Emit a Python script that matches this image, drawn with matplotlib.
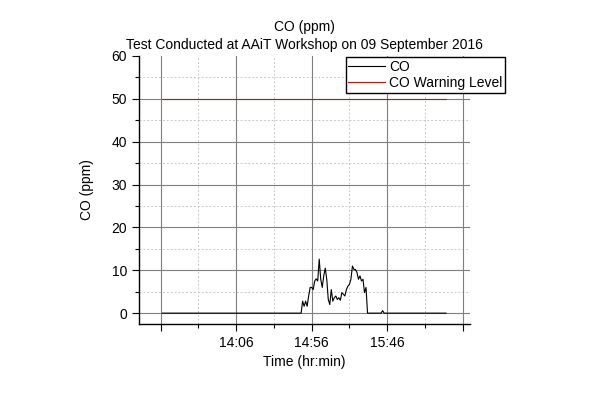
import matplotlib
matplotlib.use('Agg')
import matplotlib.pyplot as plt
from matplotlib.ticker import MultipleLocator, FixedLocator

plt.rcParams['font.family'] = ['Liberation Sans', 'DejaVu Sans']

# CO readings (time hh:mm, ppm)
times = ['13:17', '14:49', '14:50', '14:51', '14:52', '14:53', '14:54', '14:55',
         '14:56', '14:57', '14:58', '14:59', '15:00', '15:01', '15:02', '15:03',
         '15:04', '15:05', '15:06', '15:07', '15:08', '15:09', '15:10', '15:11',
         '15:12', '15:13', '15:14', '15:15', '15:16', '15:17', '15:18', '15:19',
         '15:20', '15:21', '15:22', '15:23', '15:24', '15:25', '15:26', '15:27',
         '15:28', '15:29', '15:30', '15:31', '15:32', '15:33', '15:42', '15:43',
         '15:44', '16:25']
co = [0, 0, 2.8, 1.6, 2.8, 1.6, 4.0, 6.0,
      6.0, 5.5, 7.5, 8.0, 7.5, 12.6, 7.9, 6.0,
      8.7, 10.5, 7.9, 3.2, 2.0, 5.5, 2.8, 3.6,
      4.0, 3.2, 3.6, 3.0, 4.8, 4.4, 4.0, 5.5,
      6.3, 6.7, 7.9, 11.0, 10.2, 10.2, 9.5, 7.9,
      8.7, 7.5, 7.9, 4.8, 6.0, 0, 0, 0.6,
      0, 0]
warn_times = ['13:17', '16:25']
warn_level = [50, 50]

x_ticks = ['13:16', '14:06', '14:56', '15:46', '16:36']
x_labels = ['', '14:06', '14:56', '15:46', '']
y_ticks = [0, 10, 20, 30, 40, 50, 60]
y_minor = [5, 15, 25, 35, 45, 55]


def to_min(t):
    h, m = t.split(':')
    return int(h) * 60 + int(m)


fig = plt.figure(figsize=(6.15, 3.94), dpi=100)
ax = fig.add_axes([0.226, 0.178, 0.538, 0.680])

ax.plot([to_min(t) for t in times], co, color='black', lw=0.8, label='CO')
ax.plot([to_min(t) for t in warn_times], warn_level, color='#cc1010', lw=0.8,
        label='CO Warning Level')

ax.set_xlim(to_min('13:01') + 0.6, to_min('16:40') + 0.8)
ax.set_ylim(-2.5, 60)

ax.xaxis.set_major_locator(FixedLocator([to_min(t) for t in x_ticks]))
ax.set_xticklabels(x_labels)
ax.xaxis.set_minor_locator(MultipleLocator(25, offset=to_min('13:16') % 25))
ax.yaxis.set_major_locator(FixedLocator(y_ticks))
ax.yaxis.set_minor_locator(FixedLocator(y_minor))

# vertical grid from the ticks, horizontal grid drawn up to 50 only (none on top)
ax.grid(axis='x', which='major', color='#7f7f7f', lw=0.8, ls='-')
ax.grid(axis='x', which='minor', color='#c8c8c8', lw=0.7, ls=(0, (2, 2)))
for y in y_ticks[:-1]:
    ax.axhline(y, color='#7f7f7f', lw=0.8, zorder=0.5)
for y in y_minor:
    ax.axhline(y, color='#c8c8c8', lw=0.7, ls=(0, (2, 2)), zorder=0.5)
ax.set_axisbelow(True)

for s in ['top', 'right']:
    ax.spines[s].set_visible(False)
for s in ['left', 'bottom']:
    ax.spines[s].set_linewidth(1.0)

ax.tick_params(which='major', direction='out', length=5, width=0.8, labelsize=10)
ax.tick_params(which='minor', direction='out', length=3, width=0.8)

ax.set_xlabel('Time (hr:min)', fontsize=10)
ax.set_ylabel('CO (ppm)', fontsize=10, labelpad=13)
ax.set_title('CO (ppm)\nTest Conducted at AAiT Workshop on 09 September 2016',
             fontsize=10, pad=5, linespacing=1.35)

leg = ax.legend(loc='upper right', bbox_to_anchor=(0.821, 0.855),
                bbox_transform=fig.transFigure, borderaxespad=0, fontsize=10,
                fancybox=False, framealpha=1, edgecolor='black', borderpad=0.2,
                handlelength=2.6, labelspacing=0.15, handletextpad=0.3)
leg.get_frame().set_linewidth(1.0)

fig.savefig('out.png', dpi=100)
